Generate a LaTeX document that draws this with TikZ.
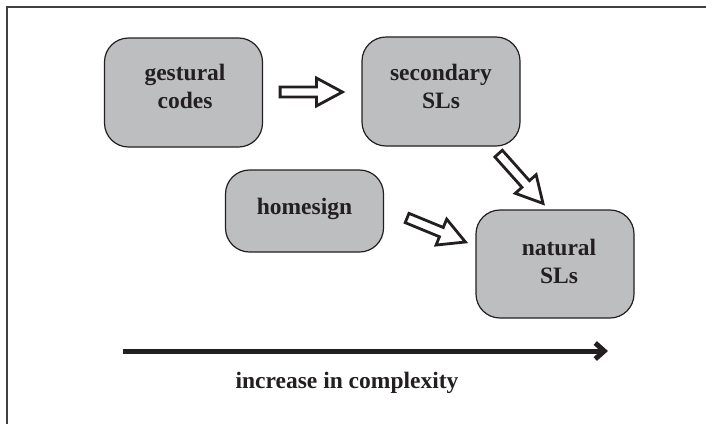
\documentclass[tikz,border=0pt]{standalone}
\usepackage{fontspec}
\setmainfont{Liberation Serif}
\usetikzlibrary{calc,arrows.meta}
\definecolor{boxgray}{HTML}{BDBEC0}
\definecolor{inkdark}{HTML}{231F20}
\tikzset{
  stage/.style={draw=inkdark, line width=1.2pt, fill=boxgray, rounded corners=24pt,
    minimum width=158pt, inner sep=0pt},
  stagetext/.style={text=inkdark, font=\fontsize{23.5}{28}\selectfont\bfseries, align=center, inner sep=0pt},
  hollow/.style={draw=inkdark, fill=white, line width=2.8pt, line join=miter},
  trend/.style={draw=inkdark, line width=5pt, -{Straight Barb[length=9pt,width=16pt]}}
}
% hollow block arrow from #1 to #2
\newcommand{\blockarrow}[2]{%
  \coordinate (hb) at ($(#2)!26pt!(#1)$);
  \draw[hollow]
    ($(#1)!5pt!90:(#2)$) -- ($(hb)!5pt!90:(#2)$) -- ($(hb)!14pt!90:(#2)$) -- (#2)
    -- ($(hb)!14pt!-90:(#2)$) -- ($(hb)!5pt!-90:(#2)$) -- ($(#1)!5pt!-90:(#2)$) -- cycle;
}
\begin{document}
\begin{tikzpicture}[x=1pt,y=-1pt]
\useasboundingbox (0,0) rectangle (706,424);
\fill[white] (0,0) rectangle (706,424);
% frame
\draw[line width=1.6pt, draw=black!75] (7,424) -- (7,7) -- (706,7);

% stage boxes
\node[stage, minimum height=109pt] (gest) at (183.5,92.5) {};
\node[stage, minimum height=109pt] (sec) at (441,91.5) {};
\node[stage, minimum height=82pt] (home) at (304.5,211) {};
\node[stage, minimum height=108pt] (nat) at (555,264) {};

\node[stagetext] (gestT) at (185,86) {gestural\\codes};
\node[stagetext] (secT) at (441,86) {secondary\\SLs};
\node[stagetext] (homeT) at (304.5,209) {homesign};
\node[stagetext] (natT) at (559,261.5) {natural\\SLs};

% hollow arrows between stages
\coordinate (a1s) at ($(gest.east)+(17,-0.5)$);
\coordinate (a1e) at ($(sec.west)+(-19,0.5)$);
\blockarrow{a1s}{a1e}
\coordinate (a2s) at ($(sec.south east)+(-22,7)$);
\coordinate (a2e) at ($(nat.north)+(-12,-6)$);
\blockarrow{a2s}{a2e}
\coordinate (a3s) at ($(home.east)+(23,7)$);
\coordinate (a3e) at ($(nat.west)+(-10,-22)$);
\blockarrow{a3s}{a3e}

% complexity axis
\coordinate (axs) at (123,351);
\coordinate (axe) at (608,351);
\draw[trend] (axs) -- (axe);
\node[stagetext] (axT) at (347,383) {increase in complexity};
\end{tikzpicture}
\end{document}
